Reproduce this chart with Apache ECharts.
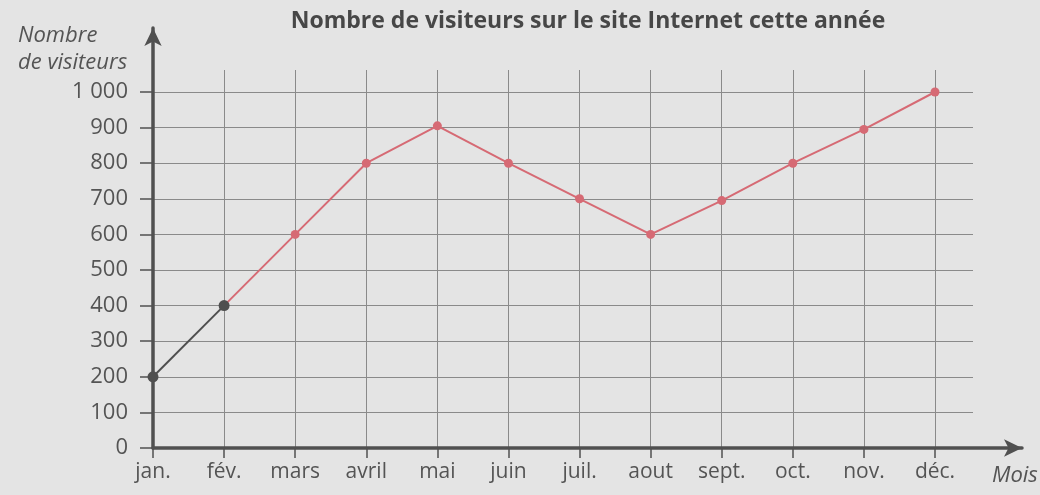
<!DOCTYPE html>
<html>
<head>
<meta charset="utf-8">
<script src="https://cdn.jsdelivr.net/npm/echarts@6/dist/echarts.min.js"></script>
<style>
  html, body { margin: 0; padding: 0; background: #e4e4e4; }
  #chart { width: 1040px; height: 495px; }
</style>
</head>
<body>
<div id="chart"></div>
<script>
const months = ['jan.', 'fév.', 'mars', 'avril', 'mai', 'juin', 'juil.', 'aout', 'sept.', 'oct.', 'nov.', 'déc.']
const visitors = [200, 400, 600, 800, 905, 800, 700, 600, 695, 800, 895, 1000]
const yTicks = { min: 0, max: 1000, interval: 100 }

const TEXT = '#545454'
const GRID_LINE = '#8a8a8a'
const AXIS = '#505050'
const RED = '#d66a74'
const FONT = '"Open Sans", sans-serif'

const chart = echarts.init(document.getElementById('chart'))

// premier segment gris (jan. -> fév.), le reste en rouge
const greyData = visitors.map((v, i) => (i <= 1 ? v : '-'))
const redData = visitors.map((v, i) => (i >= 1 ? v : '-'))

const hidden = { show: false }

const option = {
  backgroundColor: '#e4e4e4',
  textStyle: { fontFamily: FONT },
  title: [
    {
      text: 'Nombre de visiteurs sur le site Internet cette année',
      left: 583,
      top: 5,
      textAlign: 'center',
      textStyle: { fontFamily: FONT, fontSize: 23, fontWeight: 'bold', color: '#474747' }
    },
    {
      text: 'Nombre\nde visiteurs',
      left: 13,
      top: 17,
      textStyle: { fontFamily: FONT, fontSize: 22, fontStyle: 'italic', fontWeight: 'normal', color: TEXT, lineHeight: 27 }
    },
    {
      text: 'Mois',
      left: 987,
      top: 460,
      textStyle: { fontFamily: FONT, fontSize: 22, fontStyle: 'italic', fontWeight: 'normal', color: TEXT }
    }
  ],
  grid: [
    // 0: données + étiquettes
    { left: 153, top: 92, width: 782, bottom: 47 },
    // 1: lignes verticales du quadrillage
    { left: 153, top: 70, width: 782, bottom: 47 },
    // 2: lignes horizontales du quadrillage
    { left: 153, top: 92, right: 67, bottom: 47 },
    // 3: axes avec flèches
    { left: 153, top: 28, right: 18, bottom: 47 }
  ],
  xAxis: [
    {
      gridIndex: 0,
      type: 'category',
      data: months,
      boundaryGap: false,
      axisLine: hidden,
      axisTick: { show: true, length: 10, lineStyle: { color: AXIS, width: 1.5 } },
      axisLabel: { color: TEXT, fontSize: 21, margin: 14, fontFamily: FONT },
      splitLine: hidden
    },
    {
      gridIndex: 1,
      type: 'category',
      data: months,
      boundaryGap: false,
      axisLine: hidden,
      axisTick: hidden,
      axisLabel: hidden,
      splitLine: { show: true, lineStyle: { color: GRID_LINE, width: 1 } }
    },
    {
      gridIndex: 2,
      type: 'value',
      show: false
    },
    {
      gridIndex: 3,
      type: 'value',
      axisLine: { show: true, symbol: ['none', 'arrow'], symbolSize: [13, 18], lineStyle: { color: AXIS, width: 3.5 } },
      axisTick: hidden,
      axisLabel: hidden,
      splitLine: hidden
    }
  ],
  yAxis: [
    {
      gridIndex: 0,
      type: 'value',
      min: yTicks.min,
      max: yTicks.max,
      interval: yTicks.interval,
      axisLine: hidden,
      axisTick: { show: true, length: 13, lineStyle: { color: AXIS, width: 1.5 } },
      axisLabel: {
        color: TEXT,
        fontSize: 22,
        margin: 25,
        fontFamily: FONT,
        formatter: (v) => (v >= 1000 ? String(v).replace(/\B(?=(\d{3})+$)/g, ' ') : String(v))
      },
      splitLine: hidden
    },
    {
      gridIndex: 1,
      type: 'value',
      show: false
    },
    {
      gridIndex: 2,
      type: 'value',
      min: yTicks.min,
      max: yTicks.max,
      interval: yTicks.interval,
      axisLine: hidden,
      axisTick: hidden,
      axisLabel: hidden,
      splitLine: { show: true, lineStyle: { color: GRID_LINE, width: 1 } }
    },
    {
      gridIndex: 3,
      type: 'value',
      axisLine: { show: true, symbol: ['none', 'arrow'], symbolSize: [13, 18], lineStyle: { color: AXIS, width: 3.5 } },
      axisTick: hidden,
      axisLabel: hidden,
      splitLine: hidden
    }
  ],
  series: [
    {
      name: 'rouge',
      type: 'line',
      xAxisIndex: 0,
      yAxisIndex: 0,
      data: redData,
      symbol: 'circle',
      symbolSize: 9,
      lineStyle: { color: RED, width: 2 },
      itemStyle: { color: RED },
      z: 5
    },
    {
      name: 'gris',
      type: 'line',
      xAxisIndex: 0,
      yAxisIndex: 0,
      data: greyData,
      symbol: 'circle',
      symbolSize: 11,
      lineStyle: { color: '#4f4f4f', width: 2 },
      itemStyle: { color: '#4f4f4f' },
      z: 6
    }
  ]
}

chart.setOption(option)
</script>
</body>
</html>
